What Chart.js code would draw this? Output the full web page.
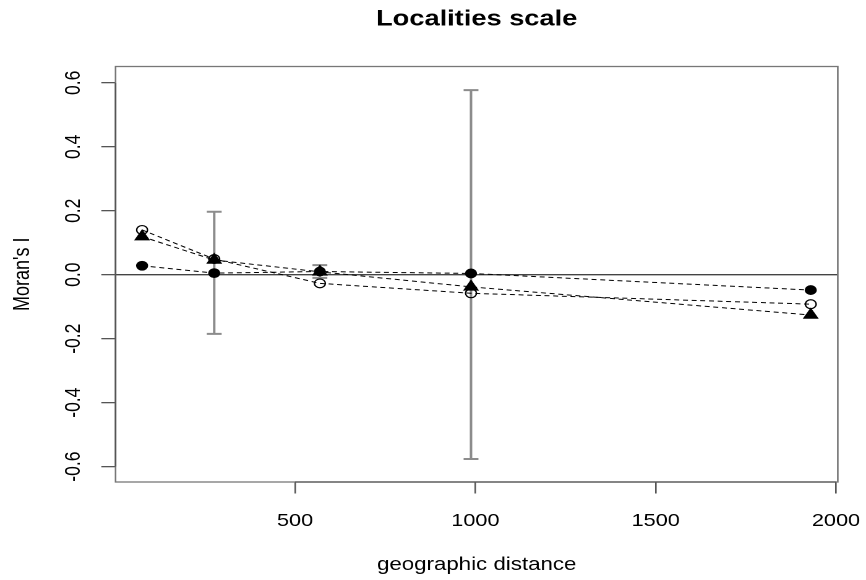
<!DOCTYPE html>
<html>
<head>
<meta charset="utf-8">
<script src="https://cdn.jsdelivr.net/npm/chart.js@4.4.1/dist/chart.umd.min.js"></script>
<style>
  html, body { margin: 0; padding: 0; background: #fff; }
</style>
</head>
<body>
<!-- the original plot is horizontally stretched, so draw at 700 wide and stretch to 866 -->
<canvas id="chart" width="700" height="580" style="width:866px;height:580px;display:block"></canvas>
<script>
const distance = [76, 276, 569, 988, 1930];
const moranFilled = [0.028, 0.005, 0.010, 0.004, -0.048];
const moranOpen = [0.140, 0.049, -0.027, -0.058, -0.092];
const moranTriangle = [0.119, 0.046, 0.009, -0.038, -0.126];
// error bars of the filled series (null = no visible bar)
const errLow = [null, -0.185, -0.010, -0.576, null];
const errHigh = [null, 0.197, 0.030, 0.577, null];
const xTicks = [500, 1000, 1500, 2000];
const yTicks = [-0.6, -0.4, -0.2, 0.0, 0.2, 0.4, 0.6];

const family = "'Liberation Sans', Arial, Helvetica, sans-serif";
const axisGrey = '#555';

function points(ys) {
  return distance.map((d, i) => ({ x: d, y: ys[i] }));
}

const rDecor = {
  id: 'rDecor',
  beforeDatasetsDraw(chart) {
    const { ctx, chartArea: a, scales: { x, y } } = chart;
    ctx.save();
    // abline(h = 0)
    const y0 = y.getPixelForValue(0);
    ctx.strokeStyle = '#444';
    ctx.lineWidth = 1.4;
    ctx.beginPath();
    ctx.moveTo(a.left, y0);
    ctx.lineTo(a.right, y0);
    ctx.stroke();
    // error bars
    ctx.strokeStyle = '#8c8c8c';
    ctx.lineWidth = 2;
    distance.forEach((d, i) => {
      if (errLow[i] == null) return;
      const px = x.getPixelForValue(d);
      const lo = y.getPixelForValue(errLow[i]);
      const hi = y.getPixelForValue(errHigh[i]);
      ctx.beginPath();
      ctx.moveTo(px, lo); ctx.lineTo(px, hi);
      ctx.moveTo(px - 6, lo); ctx.lineTo(px + 6, lo);
      ctx.moveTo(px - 6, hi); ctx.lineTo(px + 6, hi);
      ctx.stroke();
    });
    ctx.restore();
  },
  afterDraw(chart) {
    const { ctx, chartArea: a, scales: { x, y } } = chart;
    ctx.save();
    ctx.strokeStyle = '#777';
    ctx.lineWidth = 1.3;
    ctx.strokeRect(a.left, a.top, a.right - a.left, a.bottom - a.top);
    // axis lines run from first to last tick
    ctx.strokeStyle = axisGrey;
    ctx.beginPath();
    ctx.moveTo(x.getPixelForValue(xTicks[0]), a.bottom);
    ctx.lineTo(x.getPixelForValue(xTicks[xTicks.length - 1]), a.bottom);
    ctx.moveTo(a.left, y.getPixelForValue(yTicks[0]));
    ctx.lineTo(a.left, y.getPixelForValue(yTicks[yTicks.length - 1]));
    ctx.stroke();
    ctx.restore();
  }
};

const ctx = document.getElementById('chart').getContext('2d');

new Chart(ctx, {
  type: 'line',
  data: {
    datasets: [
      {
        label: 'filled',
        data: points(moranFilled),
        borderColor: '#000',
        borderWidth: 1,
        borderDash: [4, 3],
        pointStyle: 'circle',
        pointRadius: 4.4,
        pointBackgroundColor: '#000',
        pointBorderColor: '#000',
        pointBorderWidth: 1
      },
      {
        label: 'triangle',
        data: points(moranTriangle),
        borderColor: '#000',
        borderWidth: 1,
        borderDash: [4, 3],
        pointStyle: 'triangle',
        pointRadius: 6.5,
        pointBackgroundColor: '#000',
        pointBorderColor: '#000',
        pointBorderWidth: 1
      },
      {
        label: 'open',
        data: points(moranOpen),
        borderColor: '#000',
        borderWidth: 1,
        borderDash: [4, 3],
        pointStyle: 'circle',
        pointRadius: 4.4,
        pointBackgroundColor: 'rgba(0,0,0,0)',
        pointBorderColor: '#000',
        pointBorderWidth: 1.2
      }
    ]
  },
  options: {
    responsive: false,
    devicePixelRatio: 2,
    animation: false,
    events: [],
    layout: { padding: { left: 0, right: 22.8, top: 0, bottom: 0 } },
    plugins: {
      legend: { display: false },
      tooltip: { enabled: false },
      title: {
        display: true,
        text: 'Localities scale',
        color: '#000',
        fullSize: false,
        font: { family: family, size: 22, weight: 'bold' },
        padding: { top: 6.3, bottom: 33.8 }
      }
    },
    scales: {
      x: {
        type: 'linear',
        min: 2.4,
        max: 2005,
        afterBuildTicks: s => { s.ticks = xTicks.map(v => ({ value: v })); },
        afterFit: s => { s.height = 98; s.paddingLeft = 0; s.paddingRight = 0; },
        border: { display: false },
        grid: { drawOnChartArea: false, drawTicks: true, tickLength: 11.5, color: axisGrey, lineWidth: 1.3 },
        ticks: {
          color: '#000',
          font: { family: family, size: 17.5 },
          padding: 17,
          maxRotation: 0,
          autoSkip: false,
          callback: v => String(v)
        },
        title: {
          display: true,
          text: 'geographic distance',
          color: '#000',
          font: { family: family, size: 18 },
          padding: { top: 0, bottom: 4 }
        }
      },
      y: {
        type: 'linear',
        min: -0.648,
        max: 0.651,
        afterBuildTicks: s => { s.ticks = yTicks.map(v => ({ value: v })); },
        afterFit: s => { s.width = 93.4; s.paddingTop = 0; s.paddingBottom = 0; },
        border: { display: false },
        grid: { drawOnChartArea: false, drawTicks: true, tickLength: 11.5, color: axisGrey, lineWidth: 1.3 },
        ticks: {
          color: '#000',
          font: { family: family, size: 17.5 },
          padding: 7.4,
          minRotation: 90,
          maxRotation: 90,
          crossAlign: 'center',
          autoSkip: false,
          callback: v => v.toFixed(1)
        },
        title: {
          display: true,
          text: "Moran's I",
          color: '#000',
          font: { family: family, size: 18 },
          padding: { top: 7.8, bottom: 0 }
        }
      }
    }
  },
  plugins: [rDecor]
});
</script>
</body>
</html>
